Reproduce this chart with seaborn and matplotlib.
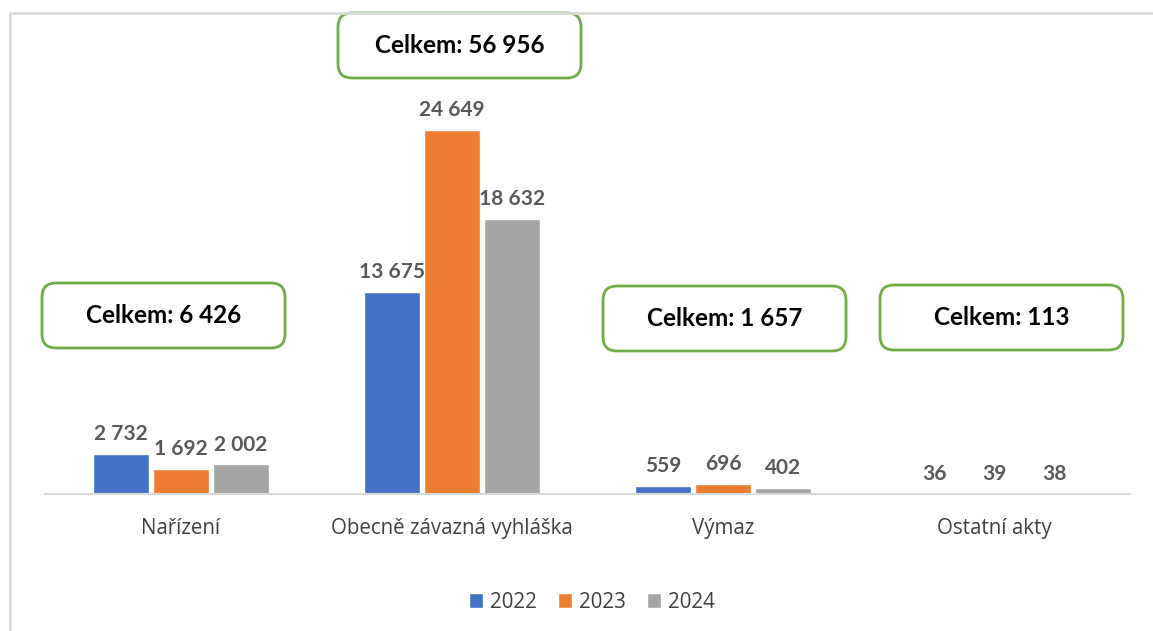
import matplotlib
matplotlib.use("Agg")
import matplotlib.pyplot as plt
from matplotlib.patches import FancyBboxPatch
from matplotlib.lines import Line2D
import seaborn as sns
import pandas as pd

categories = ["Nařízení", "Obecně závazná vyhláška", "Výmaz", "Ostatní akty"]
years = ["2022", "2023", "2024"]
values_2022 = [2732, 13675, 559, 36]
values_2023 = [1692, 24649, 696, 39]
values_2024 = [2002, 18632, 402, 38]
colors = ["#4472C4", "#ED7D31", "#A5A5A5"]

series = {"2022": values_2022, "2023": values_2023, "2024": values_2024}
rows = []
for y in years:
    for c, v in zip(categories, series[y]):
        rows.append({"kategorie": c, "rok": y, "pocet": v})
df = pd.DataFrame(rows)

def fmt(v):
    return f"{int(round(v)):,}".replace(",", " ")

sns.set_style("white")
plt.rcParams["font.family"] = ["Open Sans", "DejaVu Sans"]
BOLD = ["Lato", "DejaVu Sans"]

W, H = 1153, 631
fig = plt.figure(figsize=(W / 100, H / 100), dpi=100)
left, right, bottom, top = 45, 1130, 494, 51
ax = fig.add_axes([left / W, 1 - bottom / H, (right - left) / W, (bottom - top) / H])

sns.barplot(data=df, x="kategorie", y="pocet", hue="rok", palette=colors,
            width=0.664, gap=0.067, ax=ax, order=categories, hue_order=years,
            saturation=1, legend=True)
ax.set_ylim(0, 30000)
ax.set_xlim(-0.5, 3.5)
ax.set_xlabel("")
ax.set_ylabel("")
ax.set_yticks([])
for s in ["top", "right", "left"]:
    ax.spines[s].set_visible(False)
ax.spines["bottom"].set_color("#D9D9D9")
ax.spines["bottom"].set_linewidth(1.5)
ax.tick_params(axis="x", length=0, pad=17, labelsize=14.8, labelcolor="#404040")

for cont in ax.containers:
    ax.bar_label(cont, labels=[fmt(v) for v in cont.datavalues], padding=7,
                 fontsize=15, fontweight="bold", color="#595959", family=BOLD)

handles, labels = ax.get_legend_handles_labels()
ax.legend(handles, labels, loc="center", bbox_to_anchor=(592 / W, 1 - 602 / H),
          bbox_transform=fig.transFigure, ncol=3, frameon=False, fontsize=14.8,
          handlelength=0.7, handleheight=0.7, handletextpad=0.35, columnspacing=1.0,
          labelcolor="#404040")

totals = [sum(v) for v in zip(values_2022, values_2023, values_2024)]
boxes = [(42, 283), (338, 13), (603, 286), (880, 285)]
bw, bh = 243, 65
for (bx, by), t in zip(boxes, totals):
    x0 = bx / 100
    y0 = (H - by - bh) / 100
    patch = FancyBboxPatch((x0 + 0.12, y0 + 0.12), bw / 100 - 0.24, bh / 100 - 0.24,
                           boxstyle="round,pad=0.12,rounding_size=0.14",
                           transform=fig.dpi_scale_trans, facecolor="white",
                           edgecolor="#70AD47", linewidth=2)
    fig.add_artist(patch)
    fig.text((bx + bw / 2) / W, 1 - (by + bh / 2) / H, f"Celkem: {fmt(t)}",
             ha="center", va="center", fontsize=17.5, fontweight="bold", color="black",
             family=BOLD)

fig.add_artist(Line2D([10 / W, 1], [1 - 13 / H, 1 - 13 / H], transform=fig.transFigure,
                      color="#D9D9D9", linewidth=2))
fig.add_artist(Line2D([10 / W, 10 / W], [0, 1 - 13 / H], transform=fig.transFigure,
                      color="#D9D9D9", linewidth=2))

fig.savefig("out.png", dpi=100, facecolor="white")
